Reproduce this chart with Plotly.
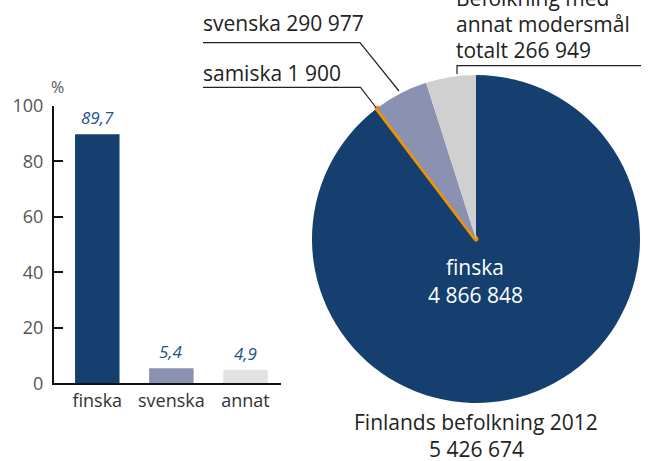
import plotly.graph_objects as go

W, H = 649, 461

# ---- data ----
bar_categories = ["finska", "svenska", "annat"]
bar_values = [89.7, 5.4, 4.9]
bar_colors = ["#143F6E", "#8A91B1", "#E2E2E2"]

pie_labels = ["finska", "samiska", "svenska", "annat"]
pie_values = [4866848, 1900, 290977, 266949]
pie_colors = ["#143F6E", "#F39200", "#8A91B1", "#D0D0D0"]
total_population = 5426674

y_ticks = [0, 20, 40, 60, 80, 100]

FONT = "Open Sans"


def px(x):
    return x / W


def py(y):
    return 1 - y / H


def fmt_num(n):
    return f"{n:,}".replace(",", " ")


def fmt_pct(v):
    return f"{v:.1f}".replace(".", ",")


fig = go.Figure()

fig.add_trace(go.Bar(
    x=bar_categories, y=bar_values,
    marker=dict(color=bar_colors, line=dict(width=0)),
    width=0.6, showlegend=False, hoverinfo="skip",
))

fig.add_trace(go.Pie(
    labels=pie_labels, values=pie_values, sort=False,
    direction="clockwise", rotation=0,
    marker=dict(colors=pie_colors,
                line=dict(color=["rgba(0,0,0,0)", "#F39200", "rgba(0,0,0,0)", "rgba(0,0,0,0)"],
                          width=[0, 5, 0, 0])),
    textinfo="none", showlegend=False, hoverinfo="skip", automargin=False,
    domain=dict(x=[px(312), px(640)], y=[py(403), py(75)]),
))

annotations = []
# bar value labels
for c, v in zip(bar_categories, bar_values):
    annotations.append(dict(
        x=c, y=v, xref="x", yref="y", text=f"<i>{fmt_pct(v)}</i>",
        showarrow=False, xanchor="center", yanchor="bottom", yshift=3,
        font=dict(family=FONT, size=17, color="#24528C"),
    ))
# percent sign
annotations.append(dict(x=px(57.5), y=py(87), xref="paper", yref="paper", text="%",
                        showarrow=False, xanchor="center", yanchor="middle",
                        font=dict(family=FONT, size=16, color="#555555")))

# pie labels
def label(x, y, text, anchor="left", color="#222222", size=21):
    annotations.append(dict(x=px(x), y=py(y), xref="paper", yref="paper", text=text,
                            showarrow=False, xanchor=anchor, yanchor="middle",
                            font=dict(family=FONT, size=size, color=color)))

label(201, 23, f"svenska {fmt_num(pie_values[2])}")
label(201, 73, f"samiska {fmt_num(pie_values[1])}")
label(454, -2, "Befolkning med")
label(454, 24, "annat modersmål")
label(454, 50, f"totalt {fmt_num(pie_values[3])}")
label(475, 267, pie_labels[0], anchor="center", color="#FFFFFF")
label(475, 295, fmt_num(pie_values[0]), anchor="center", color="#FFFFFF")
label(476, 422, "Finlands befolkning 2012", anchor="center")
label(476, 449, fmt_num(total_population), anchor="center")

shapes = []
def seg(pts):
    path = "M " + " L ".join(f"{px(x)} {py(y)}" for x, y in pts)
    shapes.append(dict(type="path", path=path, xref="paper", yref="paper",
                       line=dict(color="#222222", width=1.2)))

seg([(203, 42.7), (360, 42.7), (399, 91)])
seg([(203, 87.3), (360.5, 87.3), (376, 107.5)])
seg([(457, 74), (457, 65.7), (641, 65.7)])

fig.update_layout(
    template="none",
    width=W, height=H, margin=dict(l=0, r=0, t=0, b=0, pad=0, autoexpand=False),
    paper_bgcolor="white", plot_bgcolor="white",
    annotations=annotations, shapes=shapes,
    xaxis=dict(domain=[px(54), px(280.7)], type="category", automargin=False,
               range=[-0.584, 2.475], showline=True, linecolor="#111111", linewidth=2,
               ticks="", showgrid=False, zeroline=False,
               tickfont=dict(family=FONT, size=18, color="#333333")),
    yaxis=dict(domain=[py(383.3), py(105.7)], range=[0, 100], automargin=False,
               tickvals=y_ticks, showline=True, linecolor="#111111", linewidth=2,
               ticks="inside", ticklen=9, tickwidth=2, tickcolor="#111111",
               showgrid=False, zeroline=False, ticklabelstandoff=5,
               tickfont=dict(family=FONT, size=18, color="#555555")),
)

fig.write_html("out.html",
               config={"displayModeBar": False},
               post_script="document.body.style.margin='0';document.body.style.overflow='hidden';")
